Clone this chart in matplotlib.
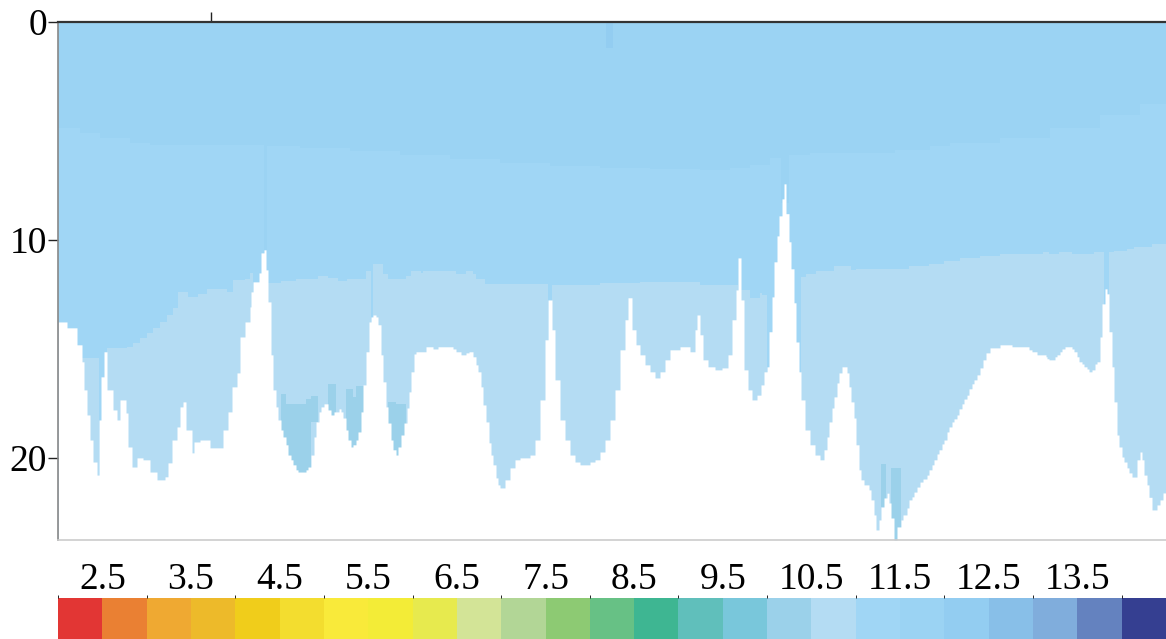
import numpy as np
import matplotlib.pyplot as plt
from matplotlib.colors import ListedColormap, BoundaryNorm

plt.rcParams['font.family'] = ['Liberation Serif', 'DejaVu Serif']

# colour scale (0.5 wide classes from 2.0 to 14.5)
levels = np.arange(2.0, 14.51, 0.5)
level_colors = ['#E23634', '#EA8033', '#EFA932', '#EDBA2A', '#F0CD1B', '#F3DD2F',
                '#F9EA3A', '#F3EC37', '#E7EA4E', '#D3E497', '#B2D696', '#8DCA73',
                '#67C185', '#3EB692', '#60BFBB', '#79C7DB', '#9BD1EA', '#B4DCF3',
                '#A0D6F5', '#9BD3F3', '#93CDF1', '#88BFE8', '#80ADDC', '#6482BF',
                '#353F91']
cbar_ticks = [2.5, 3.5, 4.5, 5.5, 6.5, 7.5, 8.5, 9.5, 10.5, 11.5, 12.5, 13.5]

# section extent
x_end = 110.8
depth_max = 23.78
x_tick = [15.3]
y_ticks = [0, 10, 20]

# class values of the water layers
t_cap = 12.25
t_top = 11.75
t_mid = 11.25
t_low = 10.75
t_patch = 10.25

# sea floor (step profile, depth in m)
bottom_x = [0.0, 0.9, 1.9, 2.4, 2.6, 2.9, 3.2, 3.5, 3.9, 4.1,
            4.3, 4.6, 4.9, 5.5, 5.9, 6.2, 6.8, 7.0, 7.4, 7.9,
            8.5, 9.2, 9.9, 10.7, 11.0, 11.4, 11.9, 12.2, 12.5, 12.8,
            13.4, 13.6, 14.2, 15.2, 16.5, 17.0, 17.4, 17.9, 18.2, 18.7,
            19.2, 19.3, 19.5, 20.1, 20.3, 20.6, 20.8, 21.0, 21.3, 21.5,
            21.8, 22.0, 22.3, 22.5, 22.8, 23.0, 23.3, 23.5, 23.8, 24.0,
            24.8, 25.0, 25.3, 25.6, 25.8, 26.1, 26.3, 26.6, 27.0, 27.3,
            27.6, 28.1, 28.3, 28.5, 28.8, 29.0, 29.3, 29.5, 29.8, 30.0,
            30.3, 30.5, 30.8, 31.1, 31.3, 31.5, 31.8, 32.0, 32.3, 32.5,
            32.8, 33.0, 33.3, 33.5, 33.8, 34.0, 34.3, 34.6, 34.9, 35.1,
            35.3, 35.6, 35.8, 36.8, 37.5, 38.0, 39.5, 39.8, 40.3, 40.8,
            41.1, 41.5, 41.8, 42.0, 42.3, 42.5, 42.8, 43.1, 43.3, 43.5,
            43.8, 44.0, 44.2, 44.7, 45.2, 45.7, 46.2, 47.2, 47.7, 48.2,
            48.7, 49.0, 49.4, 49.7, 50.2, 50.7, 51.2, 51.7, 52.2, 53.2,
            53.7, 54.2, 54.7, 55.2, 55.7, 56.2, 56.7, 57.0, 57.4, 57.8,
            58.2, 58.7, 59.2, 59.7, 60.2, 60.7, 61.2, 62.2, 63.2, 63.7,
            63.9, 64.2, 64.5, 65.0, 65.7, 66.4, 67.0, 67.4, 67.8, 68.0,
            68.3, 68.6, 69.0, 69.4, 69.9, 70.3, 70.6, 70.9, 71.1, 71.4,
            71.6, 71.9, 72.1, 72.4, 72.6, 72.8, 73.1, 73.3, 73.6, 73.8,
            74.1, 74.3, 74.7, 75.2, 75.7, 76.2, 76.6, 76.9, 77.1, 77.4,
            77.6, 77.9, 78.1, 78.4, 78.9, 79.1, 79.3, 79.6, 79.8, 80.1,
            80.3, 80.6, 81.1, 81.3, 81.6, 81.8, 82.1, 82.3, 82.6, 82.9,
            83.1, 83.3, 83.6, 83.9, 84.3, 84.5, 84.9, 85.1, 85.4, 85.6,
            85.9, 86.2, 86.5, 86.9, 87.1, 87.4, 87.6, 87.9, 88.1, 88.4,
            88.6, 88.9, 89.1, 89.4, 89.6, 89.9, 90.1, 90.4, 90.6, 90.9,
            91.1, 91.4, 91.6, 91.9, 92.2, 92.5, 92.8, 93.2, 94.2, 95.4,
            97.1, 97.4, 97.9, 98.8, 98.9, 99.1, 99.7, 99.9, 100.2, 100.4,
            100.7, 101.4, 101.6, 101.9, 102.1, 102.4, 102.6, 102.9, 103.1, 103.4,
            103.7, 103.9, 104.2, 104.4, 104.7, 104.9, 105.1, 105.4, 105.6, 105.9,
            106.1, 106.4, 106.6, 106.9, 107.1, 107.4, 107.9, 108.2, 108.4, 108.6,
            108.9, 109.1, 109.4, 109.9, 110.2, 110.5]
bottom_z = [13.77, 14.04, 14.82, 15.60, 16.89, 18.04, 19.19, 20.20, 20.80, 18.27,
            16.29, 15.14, 16.89, 17.81, 18.27, 17.35, 17.95, 19.51, 20.43, 20.01,
            20.10, 20.66, 21.02, 20.88, 20.24, 19.19, 18.59, 17.67, 17.44, 18.73,
            19.78, 19.28, 19.19, 19.55, 18.73, 17.90, 16.75, 16.11, 14.46, 13.77,
            13.08, 12.39, 11.93, 11.52, 10.60, 10.46, 11.38, 12.85, 15.28, 16.89,
            17.67, 18.27, 18.73, 19.05, 19.41, 19.88, 20.10, 20.33, 20.56, 20.66,
            20.56, 20.43, 19.88, 19.05, 18.36, 17.90, 17.67, 17.53, 17.81, 18.04,
            17.90, 17.76, 17.90, 18.18, 18.73, 19.19, 19.51, 19.41, 19.19, 18.82,
            17.90, 16.66, 15.14, 13.77, 13.54, 13.45, 13.54, 13.90, 15.28, 16.52,
            17.67, 18.41, 19.19, 19.64, 19.88, 19.51, 18.96, 18.41, 17.72, 16.98,
            16.06, 15.24, 15.14, 14.91, 15.01, 14.91, 15.01, 15.14, 15.28, 15.19,
            15.14, 15.37, 15.74, 16.06, 16.75, 17.58, 18.36, 19.32, 19.88, 20.33,
            20.93, 21.25, 21.39, 21.02, 20.47, 20.10, 20.01, 19.88, 19.19, 17.35,
            14.59, 12.76, 14.13, 16.43, 18.27, 19.19, 19.88, 20.20, 20.33, 20.20,
            20.10, 19.74, 19.19, 18.27, 16.89, 15.05, 13.67, 12.66, 14.13, 14.82,
            15.28, 15.74, 16.06, 16.34, 16.06, 15.51, 15.05, 14.91, 15.14, 14.13,
            13.45, 14.36, 15.51, 15.83, 15.97, 15.88, 15.28, 13.67, 12.30, 10.83,
            12.76, 15.97, 16.89, 17.35, 17.13, 16.66, 16.06, 15.83, 14.22, 12.62,
            11.01, 9.82, 8.90, 8.12, 7.43, 8.80, 10.09, 11.33, 12.89, 14.69,
            16.06, 17.35, 18.73, 19.41, 19.88, 20.10, 19.64, 19.05, 18.36, 17.72,
            17.21, 16.57, 16.11, 15.83, 16.11, 16.75, 17.44, 18.18, 19.41, 20.56,
            21.02, 21.25, 21.48, 21.94, 22.63, 23.32, 22.86, 22.27, 21.85, 21.63,
            22.08, 22.77, 23.78, 23.18, 22.86, 22.63, 22.31, 21.94, 21.80, 21.58,
            21.35, 21.12, 20.98, 20.80, 20.56, 20.33, 20.10, 19.83, 19.64, 19.37,
            19.19, 18.82, 18.59, 18.36, 18.22, 18.04, 17.76, 17.53, 17.31, 17.13,
            16.84, 16.61, 16.43, 16.20, 15.88, 15.51, 15.19, 14.96, 14.82, 14.91,
            15.05, 15.14, 15.28, 15.37, 15.46, 15.51, 15.37, 15.28, 15.14, 15.01,
            14.91, 15.01, 15.14, 15.37, 15.60, 15.70, 15.83, 15.93, 16.06, 15.97,
            15.70, 15.60, 14.46, 12.94, 12.25, 12.48, 14.22, 15.83, 17.44, 18.96,
            19.51, 19.97, 20.20, 20.47, 20.70, 20.89, 20.10, 19.74, 20.10, 20.80,
            21.25, 21.82, 22.40, 22.17, 21.94, 21.62]

# lower edge of the warmest surface layer
top_x = [0.0, 2.2, 4.2, 7.2, 9.2, 14.2, 20.6, 20.9, 24.2, 29.2,
         34.2, 39.2, 44.2, 49.2, 54.2, 59.2, 64.2, 67.2, 69.2, 71.2,
         72.3, 73.1, 75.2, 83.7, 87.2, 89.2, 94.2, 99.2, 104.2, 108.2]
top_z = [4.86, 5.09, 5.31, 5.54, 5.64, 5.64, 10.46, 5.69, 5.77, 5.91,
         6.10, 6.28, 6.47, 6.60, 6.69, 6.74, 6.79, 6.69, 6.55, 6.23,
         8.30, 6.10, 6.00, 5.87, 5.69, 5.54, 5.31, 4.86, 4.26, 3.76]

# lower edge of the middle layer (24 = reaches the floor)
mid_x = [0.0, 2.4, 4.1, 4.9, 6.9, 7.5, 8.2, 8.9, 9.5, 10.2,
         10.9, 11.5, 12.0, 13.0, 14.0, 14.9, 16.9, 17.5, 18.7, 19.2,
         19.5, 21.0, 22.3, 23.8, 26.0, 27.0, 28.0, 28.9, 30.8, 31.3,
         31.5, 32.5, 33.0, 34.8, 35.3, 36.3, 36.5, 39.8, 40.8, 41.5,
         41.8, 42.7, 49.0, 49.4, 54.2, 58.2, 64.2, 68.0, 68.3, 69.2,
         70.2, 70.4, 70.9, 74.3, 74.8, 75.8, 77.6, 79.3, 79.8, 85.1,
         87.1, 88.6, 90.2, 92.2, 94.2, 98.5, 99.1, 100.1, 101.4, 103.6,
         104.6, 105.1, 105.6, 106.9, 107.6, 109.4]
mid_z = [24, 15.42, 24, 14.96, 14.91, 14.73, 14.50, 14.27, 14.04, 13.77,
         13.45, 13.13, 12.39, 12.62, 12.48, 12.25, 12.39, 11.84, 11.79, 11.52,
         24, 11.97, 11.88, 11.79, 11.66, 11.75, 11.88, 11.79, 11.42, 24,
         11.10, 11.56, 11.79, 11.66, 11.42, 11.52, 11.42, 11.56, 11.42, 11.56,
         11.79, 12.01, 24, 12.07, 11.97, 11.93, 12.07, 24, 12.30, 12.68,
         12.43, 12.53, 24, 11.70, 11.56, 11.42, 11.19, 11.38, 11.33, 11.19,
         11.10, 10.97, 10.83, 10.74, 10.65, 10.56, 10.65, 10.56, 10.65, 10.56,
         24, 10.56, 10.51, 10.42, 10.33, 10.20]

# cold pockets near the floor
cold_x0 = [22.3, 22.8, 24.8, 25.3, 27.0, 28.8, 29.5, 29.8, 33.0, 33.8, 82.3, 83.3]
cold_x1 = [22.8, 24.8, 25.3, 26.0, 27.8, 29.5, 29.8, 30.6, 33.8, 34.8, 82.8, 84.3]
cold_top = [17.09, 17.55, 17.32, 17.18, 16.63, 16.86, 17.23, 16.71, 17.44, 17.55, 20.29, 20.47]
cold_bot = [24, 24, 24, 18.36, 24, 24, 24, 24, 24, 24, 22.27, 24]

# small warm cell at the surface
cap_x = [54.8, 55.5]
cap_z = 1.18


def steps(xs, zs):
    return np.append(xs, x_end), np.append(zs, zs[-1])


cmap = ListedColormap(level_colors)
norm = BoundaryNorm(levels, cmap.N)

fig = plt.figure(figsize=(11.66, 6.39), dpi=100)
ax = fig.add_axes([58 / 1166, 1 - 540 / 639, 1108 / 1166, 518 / 639])

# layers, warm over cold, floor last
ax.fill_between([0, x_end], 0, 30, color=cmap(norm(t_low)), lw=0)
sx, sz = steps(mid_x, mid_z)
ax.fill_between(sx, 0, sz, step='post', color=cmap(norm(t_mid)), lw=0)
sx, sz = steps(top_x, top_z)
ax.fill_between(sx, 0, sz, step='post', color=cmap(norm(t_top)), lw=0)
ax.fill_between(cap_x, 0, cap_z, color=cmap(norm(t_cap)), lw=0)
for x0, x1, z0, z1 in zip(cold_x0, cold_x1, cold_top, cold_bot):
    ax.fill_between([x0, x1], z0, z1, color=cmap(norm(t_patch)), lw=0)
sx, sz = steps(bottom_x, bottom_z)
ax.fill_between(sx, sz, 30, step='post', color='white', lw=0)

ax.set_xlim(0, x_end)
ax.set_ylim(depth_max, 0)
ax.set_yticks(y_ticks)
ax.set_xticks(x_tick)
ax.xaxis.set_ticks_position('top')
ax.tick_params(axis='x', labeltop=False, labelbottom=False, direction='out',
               length=7, width=1, color='#222222')
ax.tick_params(axis='y', direction='out', length=7, width=1, color='#222222',
               labelsize=27, pad=1)

ax.spines['right'].set_visible(False)
ax.spines['top'].set_color('#333333')
ax.spines['top'].set_linewidth(1.6)
ax.spines['left'].set_color('#888888')
ax.spines['left'].set_linewidth(1.2)
ax.spines['bottom'].set_color('#cccccc')
ax.spines['bottom'].set_linewidth(1.2)

# colour bar along the bottom
cax = fig.add_axes([58 / 1166, 0, 1108 / 1166, 41 / 639])
sm = plt.cm.ScalarMappable(norm=norm, cmap=cmap)
cb = fig.colorbar(sm, cax=cax, orientation='horizontal', ticklocation='top',
                  ticks=cbar_ticks)
cb.outline.set_visible(False)
cb.set_ticklabels([f'{t:.1f}' for t in cbar_ticks])
cax.tick_params(length=0, labelsize=27, pad=1)

fig.savefig('out.png', dpi=100)
